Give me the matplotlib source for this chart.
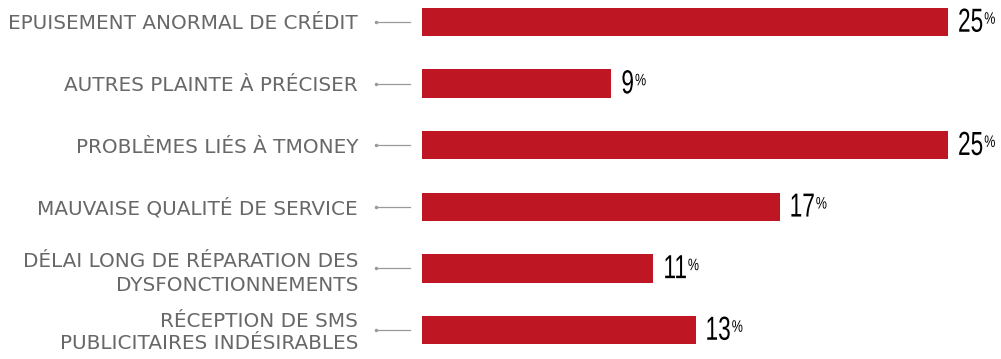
import matplotlib
matplotlib.use("Agg")
import matplotlib.pyplot as plt
from matplotlib import patheffects
from matplotlib.transforms import Affine2D

categories = [
    "EPUISEMENT ANORMAL DE CRÉDIT",
    "AUTRES PLAINTE À PRÉCISER",
    "PROBLÈMES LIÉS À TMONEY",
    "MAUVAISE QUALITÉ DE SERVICE",
    "DÉLAI LONG DE RÉPARATION DES\nDYSFONCTIONNEMENTS",
    "RÉCEPTION DE SMS\nPUBLICITAIRES INDÉSIRABLES",
]
values = [25, 9, 25, 17, 11, 13]

RED = "#be1622"
GRAY = "#686868"
SQ = 0.68  # horizontal squeeze for the condensed number font


class Squeeze(patheffects.AbstractPathEffect):
    # draws the text narrower, keeps its left edge in place
    def __init__(self, sx):
        super().__init__()
        self.sx = sx

    def draw_path(self, renderer, gc, tpath, affine, rgbFace=None):
        x0 = affine.get_matrix()[0, 2]
        t = affine + Affine2D().translate(-x0, 0).scale(self.sx, 1).translate(x0, 0)
        renderer.draw_path(gc, tpath, t, rgbFace)


fig = plt.figure(figsize=(10.01, 3.59), dpi=100)
ax = fig.add_axes([422 / 1001, 0, (948 - 422) / 1001, 1])
ypos = list(range(len(values)))
ax.barh(ypos, values, height=0.46, color=RED)
ax.set_xlim(0, 25)
ax.set_ylim(5.47, -0.357)
ax.axis("off")

px = 25 / (948 - 422)  # data units per pixel
num_texts = []
for y, cat, v in zip(ypos, categories, values):
    dy, ls = 0.03, 1.38
    if y == 4:
        dy = 0.08
    if y == 5:
        dy, ls = 0.04, 1.2
    ax.text(-64 * px, y + dy, cat, ha="right", va="center", fontsize=14.4,
            color=GRAY, linespacing=ls, clip_on=False)
    ax.plot([-46 * px, -12 * px], [y, y], color="#9a9a9a", lw=0.9, clip_on=False)
    ax.plot([-46 * px], [y], marker="o", ms=1.5, color="#9a9a9a", clip_on=False)
    t = ax.text(v + 10 * px, y + 0.02, str(v), ha="left", va="center",
                fontsize=24, color="black", family="Liberation Sans",
                clip_on=False, path_effects=[Squeeze(SQ)])
    num_texts.append(t)

fig.canvas.draw()
r = fig.canvas.get_renderer()
for t in num_texts:
    bb = t.get_window_extent(r)
    x_end = bb.x0 + SQ * (bb.x1 - bb.x0)
    fig.text((x_end + 1) / 1001, (bb.y1 - 4) / 359, "%", ha="left", va="top",
             fontsize=12, color="black", family="Liberation Sans",
             path_effects=[Squeeze(0.75)])

fig.savefig("out.png", dpi=100)
